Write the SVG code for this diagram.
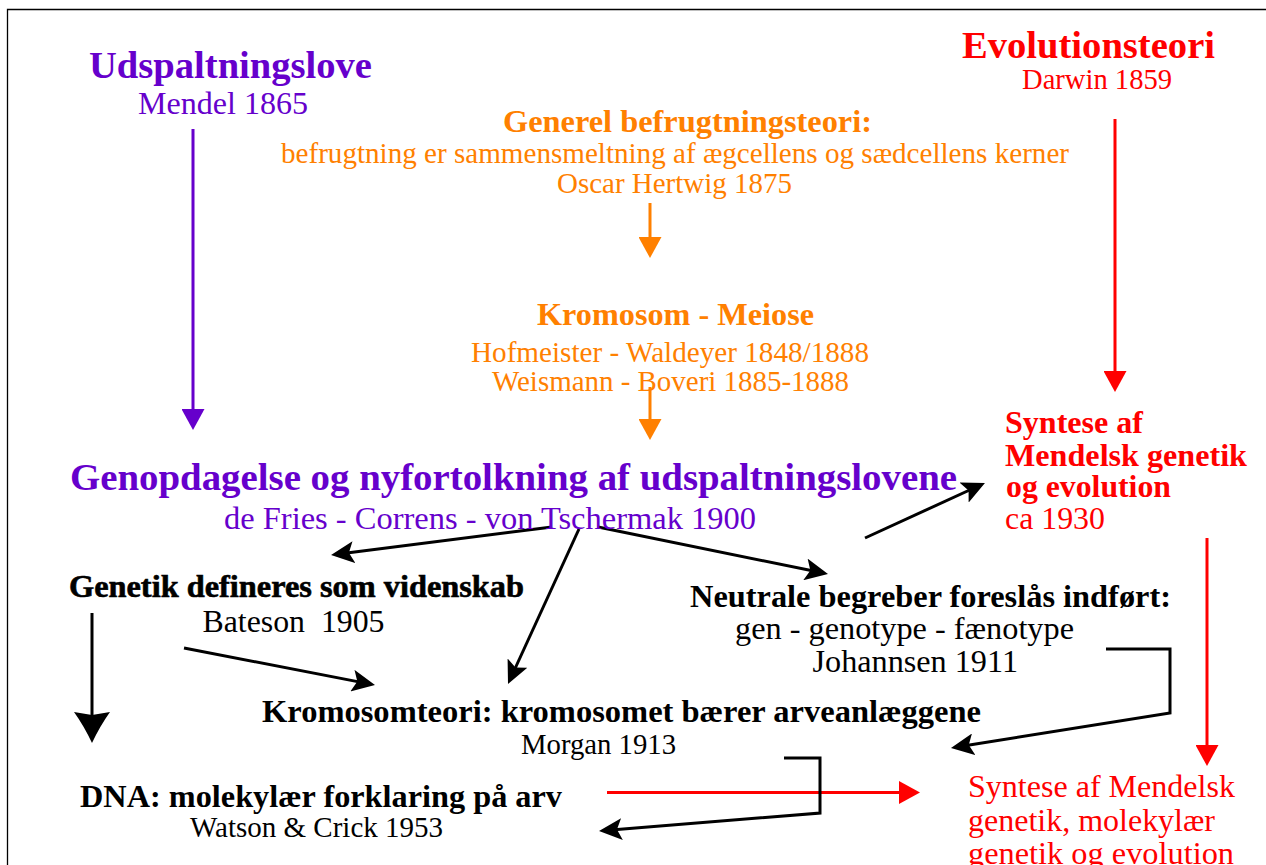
<svg xmlns="http://www.w3.org/2000/svg" width="1266" height="865" viewBox="0 0 1266 865">
<style>
text{font-family:"Liberation Serif","Times New Roman",serif;}
.b{font-weight:bold;}
.pu{fill:#6600CC;}
.or{fill:#FF8000;}
.rd{fill:#FF0000;}
.bk{fill:#000;}
.ln{fill:none;stroke-width:3;stroke-linejoin:miter;}
</style>
<defs>
<marker id="hPu" markerUnits="userSpaceOnUse" markerWidth="22" markerHeight="23" viewBox="0 0 22 23" refX="15" refY="11.5" orient="auto"><path d="M0,0 L21,11.5 L0,23 z" fill="#6600CC"/></marker>
<marker id="hOr" markerUnits="userSpaceOnUse" markerWidth="22" markerHeight="23" viewBox="0 0 22 23" refX="15" refY="11.5" orient="auto"><path d="M0,0 L21,11.5 L0,23 z" fill="#FF8000"/></marker>
<marker id="hRd" markerUnits="userSpaceOnUse" markerWidth="22" markerHeight="23" viewBox="0 0 22 23" refX="15" refY="11.5" orient="auto"><path d="M0,0 L21,11.5 L0,23 z" fill="#FF0000"/></marker>
<marker id="hBk" markerUnits="userSpaceOnUse" markerWidth="24" markerHeight="22" viewBox="0 0 24 22" refX="17" refY="11" orient="auto"><path d="M0,0 L23,11 L0,22 L5,11 z" fill="#000"/></marker>
<marker id="hBig" markerUnits="userSpaceOnUse" markerWidth="32" markerHeight="36" viewBox="0 0 32 36" refX="21" refY="18" orient="auto"><path d="M0,0 Q14,10 31,18 Q14,26 0,36 L3,18 z" fill="#000"/></marker>
</defs>
<path d="M7.5,865 V9.5 H1266" fill="none" stroke="#000" stroke-width="1.3"/>

<g id="connectors">
<path class="ln" stroke="#6600CC" d="M193,129 V424" marker-end="url(#hPu)"/>
<path class="ln" stroke="#FF8000" d="M650,203 V252" marker-end="url(#hOr)"/>
<path class="ln" stroke="#FF8000" d="M650,387 V434" marker-end="url(#hOr)"/>
<path class="ln" stroke="#FF0000" d="M1115,119 V386" marker-end="url(#hRd)"/>
<path class="ln" stroke="#FF0000" d="M1207,538 V760" marker-end="url(#hRd)"/>
<path class="ln" stroke="#FF0000" d="M607,792.5 H914" marker-end="url(#hRd)"/>
<path class="ln" stroke="#000" d="M552,527 L337,554.2" marker-end="url(#hBk)"/>
<path class="ln" stroke="#000" d="M579,529 L510.5,678.5" marker-end="url(#hBk)"/>
<path class="ln" stroke="#000" d="M598,527 L822.1,572.8" marker-end="url(#hBk)"/>
<path class="ln" stroke="#000" d="M865,538 L979.5,485.5" marker-end="url(#hBk)"/>
<path class="ln" stroke="#000" d="M184,648 L369.1,683.9" marker-end="url(#hBk)"/>
<path class="ln" stroke="#000" stroke-width="3.5" d="M92,613 V733" marker-end="url(#hBig)"/>
<path class="ln" stroke="#000" d="M1106,649 H1170 V713 L956.9,747" marker-end="url(#hBk)"/>
<path class="ln" stroke="#000" d="M784,758 H820 V813 L605,830.5" marker-end="url(#hBk)"/>
</g>

<g id="udspaltningslove">
<text class="b pu" x="89" y="78" font-size="38.5" textLength="283" lengthAdjust="spacingAndGlyphs">Udspaltningslove</text>
<text class="pu" x="138" y="114" font-size="31" textLength="170" lengthAdjust="spacingAndGlyphs">Mendel 1865</text>
</g>

<g id="befrugtningsteori">
<text class="b or" x="503" y="132" font-size="31.5" textLength="369" lengthAdjust="spacingAndGlyphs">Generel befrugtningsteori:</text>
<text class="or" x="281" y="163" font-size="29" textLength="788" lengthAdjust="spacingAndGlyphs">befrugtning er sammensmeltning af ægcellens og sædcellens kerner</text>
<text class="or" x="557" y="193" font-size="29" textLength="235" lengthAdjust="spacingAndGlyphs">Oscar Hertwig 1875</text>
</g>

<g id="kromosom-meiose">
<text class="b or" x="537" y="325" font-size="31.5" textLength="277" lengthAdjust="spacingAndGlyphs">Kromosom - Meiose</text>
<text class="or" x="471" y="361.5" font-size="29" textLength="398" lengthAdjust="spacingAndGlyphs">Hofmeister - Waldeyer 1848/1888</text>
<text class="or" x="492" y="390.5" font-size="29" textLength="357" lengthAdjust="spacingAndGlyphs">Weismann - Boveri 1885-1888</text>
</g>

<g id="evolutionsteori">
<text class="b rd" x="962" y="58" font-size="38.5" textLength="253" lengthAdjust="spacingAndGlyphs">Evolutionsteori</text>
<text class="rd" x="1022" y="89" font-size="29" textLength="150" lengthAdjust="spacingAndGlyphs">Darwin 1859</text>
</g>

<g id="syntese-1930">
<text class="b rd" x="1005" y="432.5" font-size="30.5" textLength="138" lengthAdjust="spacingAndGlyphs">Syntese af</text>
<text class="b rd" x="1005" y="466" font-size="30.5" textLength="242" lengthAdjust="spacingAndGlyphs">Mendelsk genetik</text>
<text class="b rd" x="1006" y="497" font-size="30.5" textLength="165" lengthAdjust="spacingAndGlyphs">og evolution</text>
<text class="rd" x="1005" y="528.5" font-size="31" textLength="100" lengthAdjust="spacingAndGlyphs">ca 1930</text>
</g>

<g id="genopdagelse">
<text class="b pu" x="70" y="490" font-size="38" textLength="887" lengthAdjust="spacingAndGlyphs">Genopdagelse og nyfortolkning af udspaltningslovene</text>
<text class="pu" x="224" y="529" font-size="31.5" textLength="532" lengthAdjust="spacingAndGlyphs">de Fries - Correns - von Tschermak 1900</text>
</g>

<g id="genetik">
<text class="b bk" x="69" y="597" font-size="31.5" stroke="#000" stroke-width="0.6" textLength="455" lengthAdjust="spacingAndGlyphs">Genetik defineres som videnskab</text>
<text class="bk" x="202.5" y="631.5" font-size="31.5" xml:space="preserve" textLength="182" lengthAdjust="spacingAndGlyphs">Bateson  1905</text>
</g>

<g id="neutrale-begreber">
<text class="b bk" x="690" y="606.5" font-size="30.5" textLength="481" lengthAdjust="spacingAndGlyphs">Neutrale begreber foreslås indført:</text>
<text class="bk" x="735" y="638.5" font-size="30.5" textLength="339" lengthAdjust="spacingAndGlyphs">gen - genotype - fænotype</text>
<text class="bk" x="812.5" y="671.5" font-size="31" textLength="205.5" lengthAdjust="spacingAndGlyphs">Johannsen 1911</text>
</g>

<g id="kromosomteori">
<text class="b bk" x="262" y="722" font-size="31.5" textLength="719" lengthAdjust="spacingAndGlyphs">Kromosomteori: kromosomet bærer arveanlæggene</text>
<text class="bk" x="521" y="754" font-size="28.5" textLength="155" lengthAdjust="spacingAndGlyphs">Morgan 1913</text>
</g>

<g id="dna">
<text class="b bk" x="80" y="806.5" font-size="31.5" textLength="482" lengthAdjust="spacingAndGlyphs">DNA: molekylær forklaring på arv</text>
<text class="bk" x="190" y="836.5" font-size="28.5" textLength="253" lengthAdjust="spacingAndGlyphs">Watson &amp; Crick 1953</text>
</g>

<g id="syntese-molekylaer">
<text class="rd" x="968" y="797" font-size="31" textLength="267" lengthAdjust="spacingAndGlyphs">Syntese af Mendelsk</text>
<text class="rd" x="968" y="831" font-size="31" textLength="247" lengthAdjust="spacingAndGlyphs">genetik, molekylær</text>
<text class="rd" x="968" y="864" font-size="31" textLength="266" lengthAdjust="spacingAndGlyphs">genetik og evolution</text>
</g>
</svg>
